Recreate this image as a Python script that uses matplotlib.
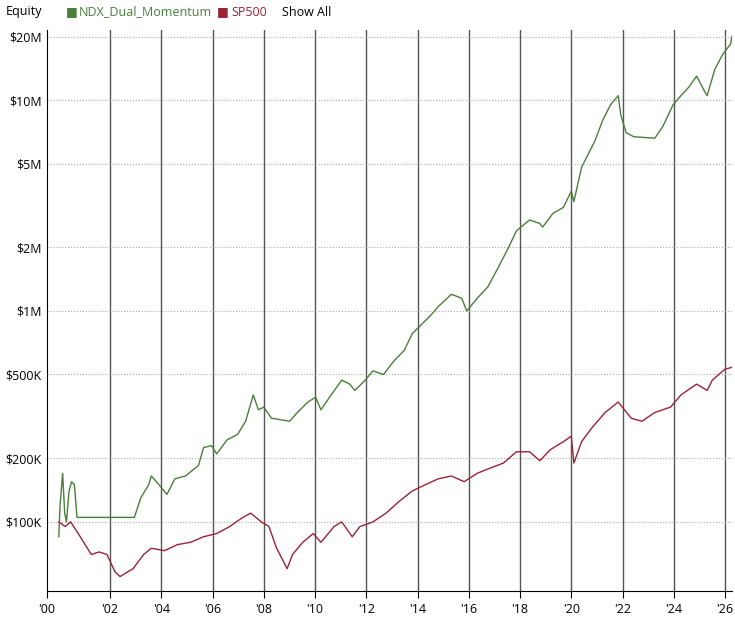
import numpy as np
import matplotlib
matplotlib.use('Agg')
import matplotlib.pyplot as plt
from matplotlib.ticker import FixedLocator, FixedFormatter

GREEN = '#4a7f3a'
RED = '#9b2335'

# NDX_Dual_Momentum equity (year, $)
ndx_t = [2000.0, 2000.05, 2000.15, 2000.23, 2000.3, 2000.4, 2000.5, 2000.61, 2000.71, 2002.95,
         2003.2, 2003.51, 2003.61, 2003.91, 2004.22, 2004.53, 2004.94, 2005.45, 2005.65, 2005.96, 2006.16,
         2006.57, 2006.98, 2007.29, 2007.59, 2007.79, 2008.0, 2008.3, 2009.01, 2009.31, 2009.72, 2010.02,
         2010.23, 2010.63, 2011.04, 2011.35, 2011.55, 2011.96, 2012.26, 2012.67, 2013.08, 2013.48, 2013.79,
         2014.1, 2014.5, 2014.81, 2015.32, 2015.72, 2015.92, 2016.33, 2016.74, 2017.14, 2017.55, 2017.86,
         2018.37, 2018.77, 2018.88, 2019.28, 2019.69, 2020.0, 2020.1, 2020.4, 2020.71, 2020.92, 2021.22,
         2021.53, 2021.83, 2021.93, 2022.14, 2022.44, 2023.26, 2023.57, 2023.97, 2024.28, 2024.58, 2024.89,
         2025.2, 2025.3, 2025.6, 2025.91, 2026.22, 2026.26]
ndx_v = [85e3, 120e3, 170e3, 110e3, 100e3, 140e3, 155e3, 150e3, 105e3, 105e3,
         130e3, 150e3, 165e3, 150e3, 135e3, 160e3, 165e3, 185e3, 225e3, 230e3, 210e3,
         245e3, 260e3, 300e3, 400e3, 340e3, 350e3, 310e3, 300e3, 330e3, 370e3, 390e3,
         340e3, 400e3, 470e3, 450e3, 420e3, 470e3, 520e3, 500e3, 580e3, 650e3, 780e3,
         850e3, 950e3, 1.05e6, 1.2e6, 1.15e6, 1.0e6, 1.15e6, 1.3e6, 1.6e6, 2.0e6, 2.4e6,
         2.7e6, 2.6e6, 2.5e6, 2.9e6, 3.1e6, 3.7e6, 3.3e6, 4.8e6, 5.7e6, 6.4e6, 8.0e6,
         9.5e6, 10.5e6, 8.5e6, 7.0e6, 6.7e6, 6.6e6, 7.5e6, 9.5e6, 10.5e6, 11.5e6, 13e6,
         11e6, 10.5e6, 14e6, 16.5e6, 18.5e6, 20e6]

# SP500 equity (year, $)
sp_t = [2000.0, 2000.25, 2000.46, 2000.76, 2000.97, 2001.27, 2001.58, 2001.88, 2002.19, 2002.39, 2002.7,
        2002.9, 2003.31, 2003.61, 2004.12, 2004.63, 2005.14, 2005.65, 2006.16, 2006.67, 2007.18, 2007.49,
        2007.9, 2008.2, 2008.5, 2008.91, 2009.12, 2009.52, 2009.93, 2010.23, 2010.74, 2011.04, 2011.45,
        2011.75, 2012.26, 2012.77, 2013.28, 2013.79, 2014.3, 2014.81, 2015.32, 2015.82, 2016.33, 2016.84,
        2017.35, 2017.86, 2018.37, 2018.77, 2019.18, 2019.69, 2020.0, 2020.1, 2020.4, 2020.81, 2021.32,
        2021.83, 2022.34, 2022.75, 2023.26, 2023.87, 2024.28, 2024.89, 2025.3, 2025.5, 2026.0, 2026.26]
sp_v = [100e3, 95e3, 100e3, 88e3, 80e3, 70e3, 72e3, 70e3, 58e3, 55e3, 58e3,
        60e3, 70e3, 75e3, 73e3, 78e3, 80e3, 85e3, 88e3, 95e3, 105e3, 110e3,
        100e3, 95e3, 75e3, 60e3, 70e3, 80e3, 88e3, 80e3, 95e3, 100e3, 85e3,
        95e3, 100e3, 110e3, 125e3, 140e3, 150e3, 160e3, 165e3, 155e3, 170e3, 180e3,
        190e3, 215e3, 215e3, 195e3, 220e3, 240e3, 255e3, 190e3, 240e3, 280e3, 330e3,
        370e3, 310e3, 300e3, 330e3, 350e3, 400e3, 450e3, 420e3, 470e3, 530e3, 540e3]

y_ticks = [1e5, 2e5, 5e5, 1e6, 2e6, 5e6, 1e7, 2e7]
y_labels = ['$100K', '$200K', '$500K', '$1M', '$2M', '$5M', '$10M', '$20M']
grid_years = list(range(2002, 2027, 2))
x_min, x_max = 1999.54, 2026.27
x_ticks = [x_min] + grid_years
x_labels = ["'00"] + ["'%02d" % (y % 100) for y in grid_years]

plt.rcParams['font.family'] = ['Open Sans', 'DejaVu Sans']
plt.rcParams['font.size'] = 9

fig = plt.figure(figsize=(7.35, 6.21), dpi=100)
ax = fig.add_axes([47 / 735, 30 / 621, 685 / 735, 561 / 621])

ax.plot(sp_t, sp_v, color=RED, lw=1)
ax.plot(ndx_t, ndx_v, color=GREEN, lw=1)

ax.set_yscale('log')
ax.set_xlim(x_min, x_max)
ax.set_ylim(47e3, 21.5e6)
ax.yaxis.set_major_locator(FixedLocator(y_ticks))
ax.yaxis.set_major_formatter(FixedFormatter(y_labels))
ax.yaxis.set_minor_locator(FixedLocator([]))
ax.set_xticks(x_ticks)
ax.set_xticklabels(x_labels)

ax.grid(axis='y', color='#aaaaaa', linestyle=':', lw=0.8)
for x in grid_years:
    ax.axvline(x, color='#555555', lw=1, zorder=0)

for s in ['top', 'right']:
    ax.spines[s].set_visible(False)
ax.spines['left'].set_color('black')
ax.spines['bottom'].set_color('black')
ax.tick_params(axis='y', length=0, pad=4)
ax.tick_params(axis='x', length=5, direction='out')

fig.text(6 / 735, 1 - 12 / 621, 'Equity', va='center', fontsize=9)
fig.text(66 / 735, 1 - 12 / 621, '\u25a0', color=GREEN, va='center', fontsize=9)
fig.text(79 / 735, 1 - 12 / 621, 'NDX_Dual_Momentum', color=GREEN, va='center', fontsize=9)
fig.text(217 / 735, 1 - 12 / 621, '\u25a0', color=RED, va='center', fontsize=9)
fig.text(231 / 735, 1 - 12 / 621, 'SP500', color=RED, va='center', fontsize=9)
fig.text(282 / 735, 1 - 12 / 621, 'Show All', va='center', fontsize=9)

fig.savefig('out.png', dpi=100, facecolor='white')
plt.close()
